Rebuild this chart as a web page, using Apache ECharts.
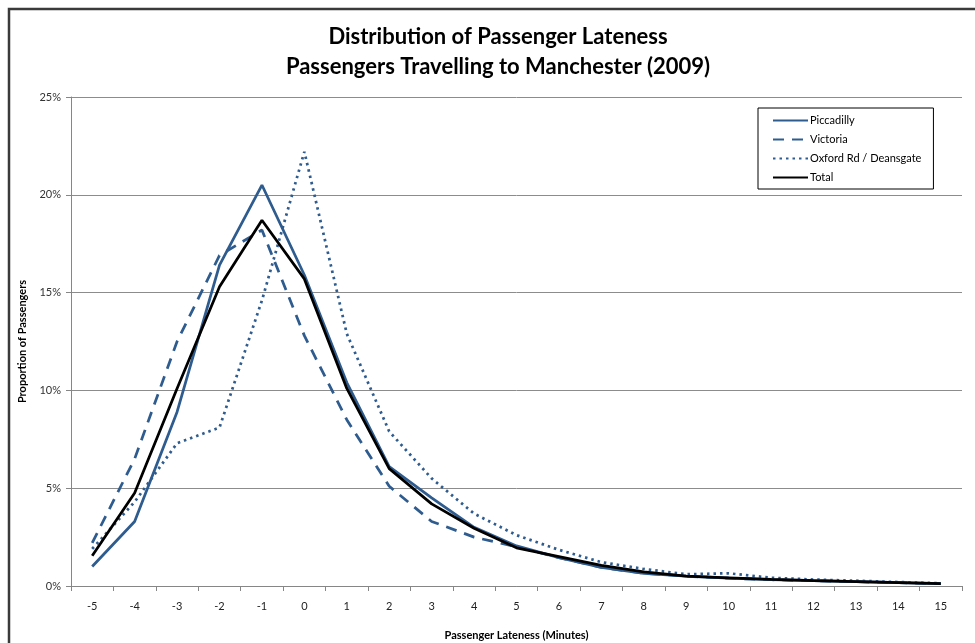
<!DOCTYPE html>
<html>
<head>
<meta charset="utf-8">
<script src="https://cdn.jsdelivr.net/npm/echarts@6/dist/echarts.min.js"></script>
<style>
html,body{margin:0;padding:0;background:#fff;}
#chart{width:975px;height:643px;}
</style>
</head>
<body>
<div id="chart"></div>
<script>
const categories = ['-5','-4','-3','-2','-1','0','1','2','3','4','5','6','7','8','9','10','11','12','13','14','15'];
const piccadilly = [1.0, 3.3, 8.9, 16.4, 20.5, 15.9, 10.4, 6.1, 4.5, 3.0, 2.05, 1.45, 0.95, 0.65, 0.5, 0.4, 0.32, 0.27, 0.22, 0.17, 0.12];
const victoria   = [2.2, 6.5, 12.5, 16.9, 18.2, 12.8, 8.5, 5.1, 3.3, 2.5, 2.0, 1.45, 0.95, 0.65, 0.5, 0.4, 0.32, 0.27, 0.22, 0.17, 0.12];
const oxford     = [1.9, 4.3, 7.3, 8.1, 14.6, 22.2, 12.9, 7.9, 5.5, 3.7, 2.6, 1.85, 1.22, 0.87, 0.6, 0.65, 0.42, 0.33, 0.27, 0.2, 0.14];
const total      = [1.55, 4.75, 10.1, 15.3, 18.7, 15.7, 10.1, 6.0, 4.2, 2.95, 1.95, 1.5, 1.05, 0.72, 0.5, 0.42, 0.34, 0.27, 0.22, 0.17, 0.12];
const seriesNames = ['Piccadilly', 'Victoria', 'Oxford Rd / Deansgate', 'Total'];
const yTicks = [0, 5, 10, 15, 20, 25];
const titleText = 'Distribution of Passenger Lateness\nPassengers Travelling to Manchester (2009)';

const FONT = 'Lato, "Liberation Sans", sans-serif';
const BLUE = '#2f5c8f';

const chart = echarts.init(document.getElementById('chart'), null, {renderer: 'canvas'});
chart.setOption({
  backgroundColor: '#ffffff',
  animation: false,
  graphic: [{
    type: 'rect',
    shape: {x: 9, y: 9, width: 1100, height: 800},
    style: {fill: 'none', stroke: '#3a3a3a', lineWidth: 2.5},
    silent: true, z: 100
  }, {
    type: 'text',
    x: 498,
    y: 52,
    style: {
      text: titleText,
      textAlign: 'center',
      textVerticalAlign: 'middle',
      fontFamily: FONT,
      fontWeight: 'bold',
      fontSize: 22,
      lineHeight: 30,
      fill: '#000'
    },
    silent: true
  }],
  legend: {
    orient: 'vertical',
    left: 758,
    top: 108,
    padding: [7, 12, 6, 14],
    itemWidth: 35,
    itemHeight: 12,
    itemGap: 8,
    borderColor: '#000',
    borderWidth: 1,
    itemStyle: {opacity: 0},
    textStyle: {fontFamily: FONT, fontSize: 11, color: '#000', padding: [0, 0, 0, -3]},
    data: seriesNames
  },
  grid: {left: 71, right: 13, top: 97, bottom: 57, containLabel: false, outerBoundsMode: 'none'},
  xAxis: {
    type: 'category',
    data: categories,
    boundaryGap: true,
    name: 'Passenger Lateness (Minutes)',
    nameLocation: 'middle',
    nameGap: 44,
    nameTextStyle: {fontFamily: FONT, fontWeight: 'bold', fontSize: 11, color: '#000'},
    axisLine: {lineStyle: {color: '#868686', width: 1}},
    axisTick: {show: true, interval: 0, length: 5, lineStyle: {color: '#868686'}},
    axisLabel: {interval: 0, margin: 15, fontFamily: FONT, fontSize: 11, color: '#222'},
    splitLine: {show: false}
  },
  yAxis: {
    type: 'value',
    min: 0,
    max: 25,
    interval: 5,
    name: 'Proportion of Passengers',
    nameLocation: 'middle',
    nameRotate: 90,
    nameGap: 43,
    nameTextStyle: {fontFamily: FONT, fontWeight: 'bold', fontSize: 11, color: '#000'},
    axisLine: {show: true, lineStyle: {color: '#868686', width: 1}},
    axisTick: {show: true, length: 5, lineStyle: {color: '#868686'}},
    axisLabel: {formatter: function(v){ return yTicks.indexOf(v) >= 0 ? v + '%' : ''; }, margin: 10, fontFamily: FONT, fontSize: 11, color: '#333'},
    splitLine: {show: true, lineStyle: {color: '#8c8c8c', width: 1}}
  },
  series: [
    {name: seriesNames[0], type: 'line', data: piccadilly, symbol: 'none', color: BLUE,
     lineStyle: {color: BLUE, width: 2.75, type: 'solid'}, z: 3},
    {name: seriesNames[1], type: 'line', data: victoria, symbol: 'none', color: BLUE,
     lineStyle: {color: BLUE, width: 2.75, type: [11, 8]}, z: 3},
    {name: seriesNames[2], type: 'line', data: oxford, symbol: 'none', color: BLUE,
     lineStyle: {color: BLUE, width: 2.75, type: [2.5, 4]}, z: 3},
    {name: seriesNames[3], type: 'line', data: total, symbol: 'none', color: '#000',
     lineStyle: {color: '#000', width: 2.75, type: 'solid'}, z: 4}
  ]
});
</script>
</body>
</html>
